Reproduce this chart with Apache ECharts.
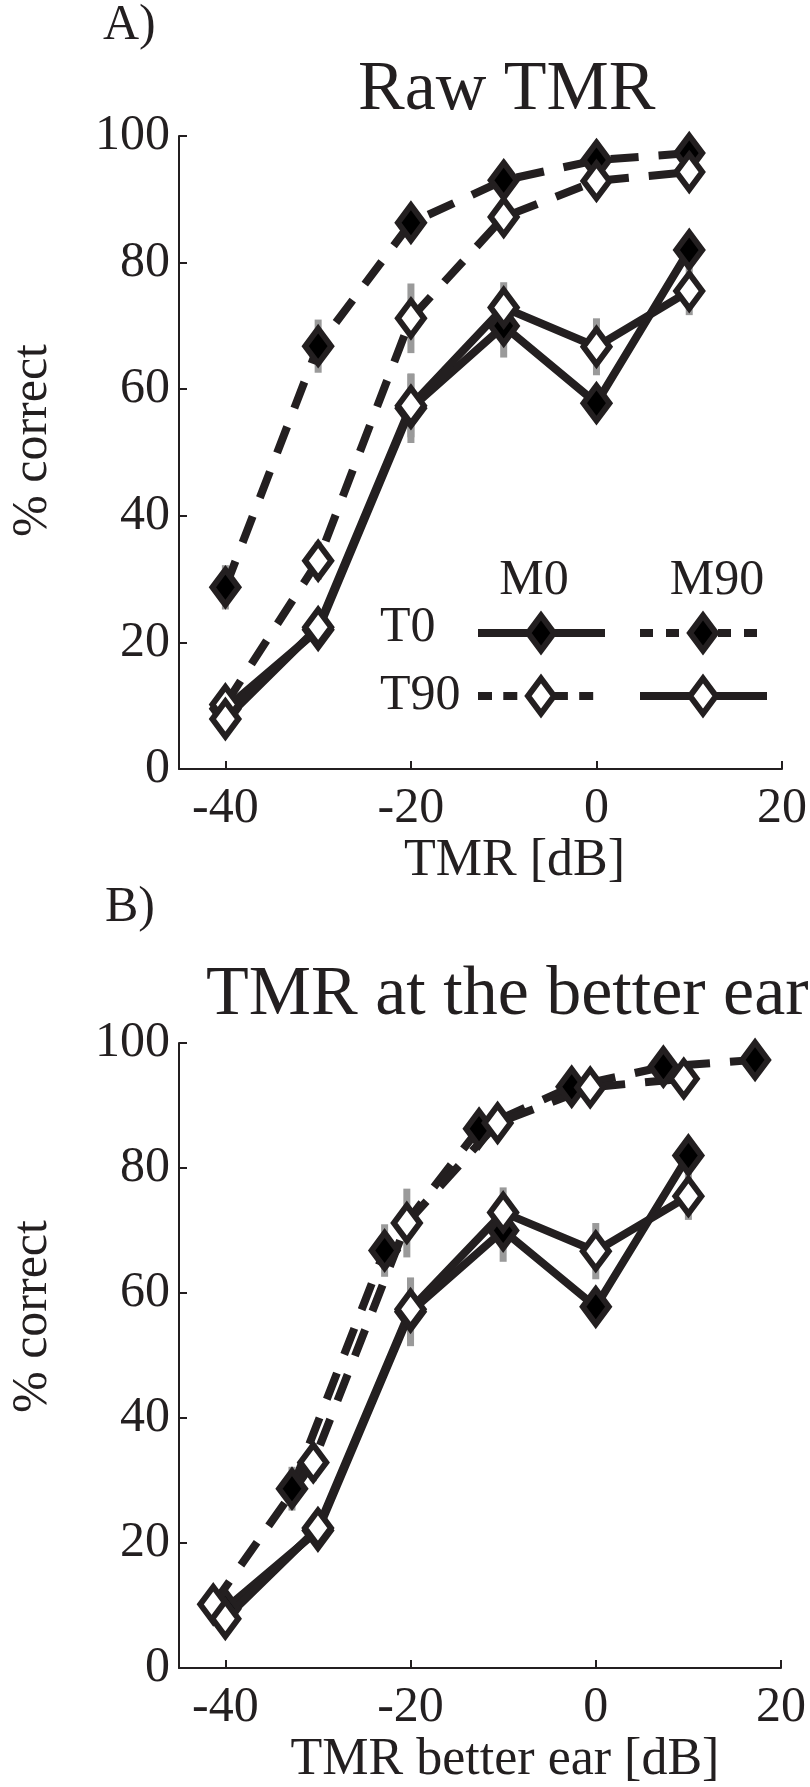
<!DOCTYPE html>
<html>
<head>
<meta charset="utf-8">
<script src="https://cdn.jsdelivr.net/npm/echarts@6/dist/echarts.min.js"></script>
<style>
html,body{margin:0;padding:0;background:#fff;}
#chart{width:810px;height:1787px;}
</style>
</head>
<body>
<div id="chart"></div>
<script>
// ---- data ----
const xTMR = [-40, -30, -20, -10, 0, 10];
const xTicks = [-40, -20, 0, 20];
const yTicks = [0, 20, 40, 60, 80, 100];

// % correct per condition (T = target, M = masker azimuth)
const T0M0   = [9.5, 22.0, 57.0, 70.0, 57.8, 82.0];
const T0M90  = [28.7, 66.8, 86.3, 93.0, 96.2, 97.3];
const T90M0  = [10.2, 32.9, 71.2, 87.2, 92.9, 94.3];
const T90M90 = [7.9, 22.4, 57.4, 72.9, 66.7, 75.5];

// error-bar half widths (%)
const errT0M0   = [1.5, 2.0, 5.5, 5.0, 2.5, 2.5];
const errT0M90  = [3.5, 4.2, 2.0, 2.0, 1.5, 1.5];
const errT90M0  = [1.5, 3.0, 5.5, 2.0, 2.0, 2.0];
const errT90M90 = [1.5, 2.0, 5.0, 4.0, 4.5, 3.8];

// panel B: TMR at the better ear
const xBE_T0M0   = [-40, -30, -20, -10, 0, 10];
const xBE_T0M90  = [-32.8, -22.8, -12.6, -2.6, 7.3, 17.2];
const xBE_T90M0  = [-41.3, -30.5, -20.4, -10.6, -0.6, 9.5];
const xBE_T90M90 = [-40, -30, -20, -10, 0, 10];

// ---- styling ----
const INK = '#231f20';
const FONT = "'Liberation Serif', 'Times New Roman', serif";
const DASH = [28, 20];

function pairs(xs, ys) { return xs.map((x, i) => [x, ys[i]]); }
function errData(xs, ys, es) { return xs.map((x, i) => [x, ys[i], es[i]]); }

function errSeries(idx, xs, ys, es) {
  return {
    type: 'custom', xAxisIndex: idx, yAxisIndex: idx, silent: true, z: 1,
    encode: { x: 0, y: 1 },
    data: errData(xs, ys, es),
    renderItem: function (params, api) {
      const x = api.value(0), y = api.value(1), e = api.value(2);
      const p1 = api.coord([x, y - e]);
      const p2 = api.coord([x, y + e]);
      return { type: 'line', shape: { x1: p1[0], y1: p1[1], x2: p2[0], y2: p2[1] },
               style: { stroke: '#9a9a9a', lineWidth: 7 } };
    }
  };
}

function lineSeries(idx, name, xs, ys, filled, dashed) {
  return {
    type: 'line', name: name, xAxisIndex: idx, yAxisIndex: idx, z: 2,
    data: pairs(xs, ys), clip: false, silent: true,
    symbol: 'diamond', symbolSize: [26, 35], showAllSymbol: true,
    lineStyle: { color: INK, width: 8, type: dashed ? DASH : 'solid', join: 'miter' },
    itemStyle: { color: filled ? '#000' : '#fff', borderColor: INK, borderWidth: 6,
                 borderJoin: 'miter', borderMiterLimit: 10, opacity: 1 }
  };
}

function axisX(idx, name, pad) {
  return {
    type: 'value', gridIndex: idx, min: -45, max: 20,
    name: name, nameLocation: 'middle', nameGap: 58,
    nameTextStyle: { fontFamily: FONT, fontSize: 52, color: INK, padding: [0, 0, 0, pad] },
    axisLine: { show: true, onZero: false, lineStyle: { color: INK, width: 2 } },
    axisTick: { show: true, inside: true, length: 8, customValues: xTicks, lineStyle: { color: INK, width: 2 } },
    axisLabel: { customValues: xTicks, fontFamily: FONT, fontSize: 50, color: INK, margin: 15 },
    splitLine: { show: false }
  };
}
function axisY(idx, pad) {
  return {
    type: 'value', gridIndex: idx, min: 0, max: 100, interval: 20,
    name: '% correct', nameLocation: 'middle', nameGap: 121,
    nameTextStyle: { fontFamily: FONT, fontSize: 50, color: INK, padding: [0, 0, 0, pad] },
    axisLine: { show: true, onZero: false, lineStyle: { color: INK, width: 2 } },
    axisTick: { show: true, inside: true, length: 8, lineStyle: { color: INK, width: 2 } },
    axisLabel: { fontFamily: FONT, fontSize: 50, color: INK, margin: 9 },
    splitLine: { show: false }
  };
}

function txt(text, x, y, size, align) {
  return { type: 'text', x: x, y: y, silent: true,
    style: { text: text, fontFamily: FONT, fontSize: size, fill: INK,
             align: align || 'left', verticalAlign: 'middle' } };
}
function lgLine(x1, x2, y, dashArr) {
  return { type: 'line', silent: true, shape: { x1: x1, y1: y, x2: x2, y2: y },
    style: { stroke: INK, lineWidth: 8, lineDash: dashArr || null } };
}
function lgDiamond(cx, cy, filled) {
  return { type: 'polygon', silent: true,
    shape: { points: [[cx, cy - 17.5], [cx + 13, cy], [cx, cy + 17.5], [cx - 13, cy]] },
    style: { fill: filled ? '#000' : '#fff', stroke: INK, lineWidth: 6, lineJoin: 'miter' } };
}

const chart = echarts.init(document.getElementById('chart'), null, { renderer: 'canvas' });
chart.setOption({
  animation: false,
  backgroundColor: '#fff',
  grid: [
    { left: 151, top: 136, width: 632, height: 633 },
    { left: 152, top: 1043, width: 629, height: 629 }
  ],
  xAxis: [axisX(0, 'TMR [dB]', 68), axisX(1, 'TMR better ear [dB]', 50)],
  yAxis: [axisY(0, 24), axisY(1, 78)],
  series: [
    errSeries(0, xTMR, T0M0, errT0M0),
    errSeries(0, xTMR, T0M90, errT0M90),
    errSeries(0, xTMR, T90M0, errT90M0),
    errSeries(0, xTMR, T90M90, errT90M90),
    lineSeries(0, 'T0 M0', xTMR, T0M0, true, false),
    lineSeries(0, 'T0 M90', xTMR, T0M90, true, true),
    lineSeries(0, 'T90 M0', xTMR, T90M0, false, true),
    lineSeries(0, 'T90 M90', xTMR, T90M90, false, false),

    errSeries(1, xBE_T0M0, T0M0, errT0M0),
    errSeries(1, xBE_T0M90, T0M90, errT0M90),
    errSeries(1, xBE_T90M0, T90M0, errT90M0),
    errSeries(1, xBE_T90M90, T90M90, errT90M90),
    lineSeries(1, 'T0 M0', xBE_T0M0, T0M0, true, false),
    lineSeries(1, 'T0 M90', xBE_T0M90, T0M90, true, true),
    lineSeries(1, 'T90 M0', xBE_T90M0, T90M0, false, true),
    lineSeries(1, 'T90 M90', xBE_T90M90, T90M90, false, false)
  ],
  graphic: [
    txt('A)', 103, 26, 50),
    txt('Raw TMR', 358, 91, 70),
    txt('B)', 105, 908, 50),
    txt('TMR at the better ear', 206, 996, 70),
    // legend matrix
    txt('M0', 534, 581, 50, 'center'),
    txt('M90', 717, 581, 50, 'center'),
    txt('T0', 380, 628, 50),
    txt('T90', 380, 696, 50),
    lgLine(478, 605, 633),
    lgDiamond(541, 633, true),
    lgLine(640, 758, 633, [13, 13]),
    lgDiamond(703, 633, true),
    lgLine(478, 596, 696, [14, 11.3]),
    lgDiamond(541, 696, false),
    lgLine(640, 767, 696),
    lgDiamond(703, 696, false)
  ]
});
</script>
</body>
</html>
